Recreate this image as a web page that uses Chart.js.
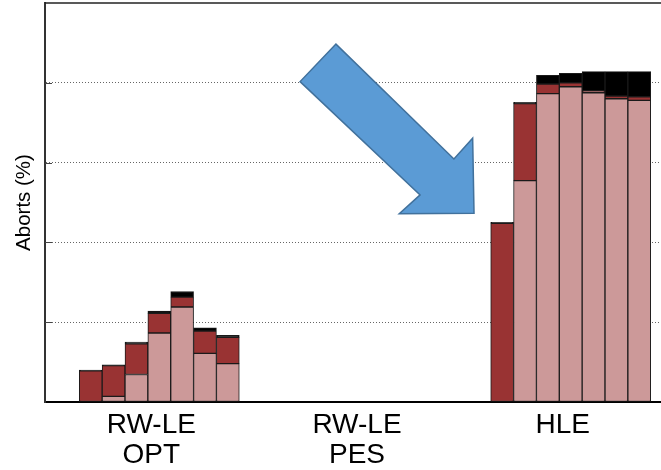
<!DOCTYPE html>
<html>
<head>
<meta charset="utf-8">
<script src="https://cdn.jsdelivr.net/npm/chart.js@4"></script>
<style>
  html, body { margin: 0; padding: 0; background: #fff; }
  #wrap { width: 661px; height: 470px; }
</style>
</head>
<body>
<div id="wrap"><canvas id="c" width="661" height="470"></canvas></div>
<script>
// ---- data ----
const groupLabels = [["RW-LE", "OPT"], ["RW-LE", "PES"], ["HLE"]];
const barsPerGroup = 7;
const groupGap = 2;

// Aborts (%) per bar, bottom segment (light) / middle (dark red) / top (black)
const lightOPT = [0, 1.4, 6.9, 17.3, 23.8, 12.2, 9.6];
const darkOPT  = [7.8, 7.7, 7.7, 4.9, 2.5, 5.6, 6.6];
const blackOPT = [0.2, 0.2, 0.4, 0.6, 1.4, 0.8, 0.5];

const lightPES = [0, 0, 0, 0, 0, 0, 0];
const darkPES  = [0, 0, 0, 0, 0, 0, 0];
const blackPES = [0, 0, 0, 0, 0, 0, 0];

const lightHLE = [0, 55.5, 77.3, 79.0, 77.5, 76.0, 75.6];
const darkHLE  = [44.8, 19.3, 2.4, 1.0, 0.5, 0.7, 0.9];
const blackHLE = [0.2, 0.3, 2.2, 2.4, 4.8, 6.1, 6.3];

const yTicks = [0, 20, 40, 60, 80, 100];

// arrow annotation, in data units (x: bar slot, y: %)
const arrowPoly = [[10.73, 89.7], [9.16, 80.3], [14.41, 51.9], [13.5, 47.2], [16.77, 47.3], [16.71, 66.1], [15.89, 60.9]];

// ---- build ----
function series(groups) {
  const out = [];
  groups.forEach((vals, g) => {
    vals.forEach((v, i) => out.push({ x: g * (barsPerGroup + groupGap) + i, y: v }));
  });
  return out;
}
const groupCenters = groupLabels.map((_, g) => g * (barsPerGroup + groupGap) + (barsPerGroup - 1) / 2);

const borderCol = '#1a1a1a';
const datasets = [
  { label: 'light', data: series([lightOPT, lightPES, lightHLE]), backgroundColor: '#cc9999' },
  { label: 'dark',  data: series([darkOPT, darkPES, darkHLE]),   backgroundColor: '#993333' },
  { label: 'black', data: series([blackOPT, blackPES, blackHLE]), backgroundColor: '#000000' }
].map(d => Object.assign(d, {
  borderColor: borderCol, borderWidth: 1, borderSkipped: false,
  barPercentage: 1, categoryPercentage: 1
}));

const framePlugin = {
  id: 'frame',
  afterDatasetsDraw(chart) {
    const { ctx, chartArea, scales } = chart;
    ctx.save();
    // short inward tick marks on the y axis
    ctx.strokeStyle = '#444';
    ctx.lineWidth = 1;
    yTicks.forEach(v => {
      if (v === 0 || v === 100) return;
      const py = Math.round(scales.y.getPixelForValue(v)) + 0.5;
      ctx.beginPath();
      ctx.moveTo(chartArea.left, py);
      ctx.lineTo(chartArea.left + 7, py);
      ctx.stroke();
    });
    // arrow
    ctx.beginPath();
    arrowPoly.forEach((p, i) => {
      const px = scales.x.getPixelForValue(p[0]);
      const py = scales.y.getPixelForValue(p[1]);
      if (i === 0) ctx.moveTo(px, py); else ctx.lineTo(px, py);
    });
    ctx.closePath();
    ctx.fillStyle = '#5b9bd5';
    ctx.fill();
    ctx.lineWidth = 1.5;
    ctx.strokeStyle = '#41719c';
    ctx.lineJoin = 'miter';
    ctx.stroke();
    // top frame line
    ctx.beginPath();
    ctx.lineWidth = 1.5;
    ctx.strokeStyle = '#222';
    ctx.moveTo(chartArea.left, chartArea.top);
    ctx.lineTo(chartArea.right, chartArea.top);
    ctx.stroke();
    ctx.restore();
  }
};

new Chart(document.getElementById('c'), {
  type: 'bar',
  data: { datasets },
  options: {
    responsive: false,
    animation: false,
    layout: { padding: { top: 3, right: 0, left: 0, bottom: 0 } },
    plugins: { legend: { display: false }, tooltip: { enabled: false } },
    scales: {
      x: {
        type: 'linear',
        stacked: true,
        offset: false,
        min: -2,
        max: 24.95,
        grid: { display: false },
        border: { display: true, color: '#000', width: 2 },
        afterBuildTicks(scale) { scale.ticks = groupCenters.map(v => ({ value: v })); },
        afterFit(scale) { scale.height = 68; },
        ticks: {
          autoSkip: false,
          maxRotation: 0,
          padding: 0,
          labelOffset: -8,
          color: '#000',
          font: { family: 'Liberation Sans, Arial, sans-serif', size: 28, lineHeight: 1.08 },
          callback(value) {
            const idx = groupCenters.indexOf(value);
            return idx >= 0 ? groupLabels[idx] : '';
          }
        }
      },
      y: {
        stacked: true,
        min: 0,
        max: 100,
        afterBuildTicks(scale) { scale.ticks = yTicks.map(v => ({ value: v })); },
        afterFit(scale) { scale.width = 45; },
        grid: {
          drawTicks: false,
          color: ctx => (ctx.tick && (ctx.tick.value === 0 || ctx.tick.value === 100)) ? 'rgba(0,0,0,0)' : '#666',
          lineWidth: 1
        },
        border: { display: true, color: '#333', width: 2, dash: [1, 2] },
        ticks: { display: false },
        title: {
          display: true,
          text: 'Aborts (%)',
          color: '#000',
          font: { family: 'Liberation Sans, Arial, sans-serif', size: 20.5 },
          padding: { top: 12, bottom: 0 }
        }
      }
    }
  },
  plugins: [framePlugin]
});
</script>
</body>
</html>
